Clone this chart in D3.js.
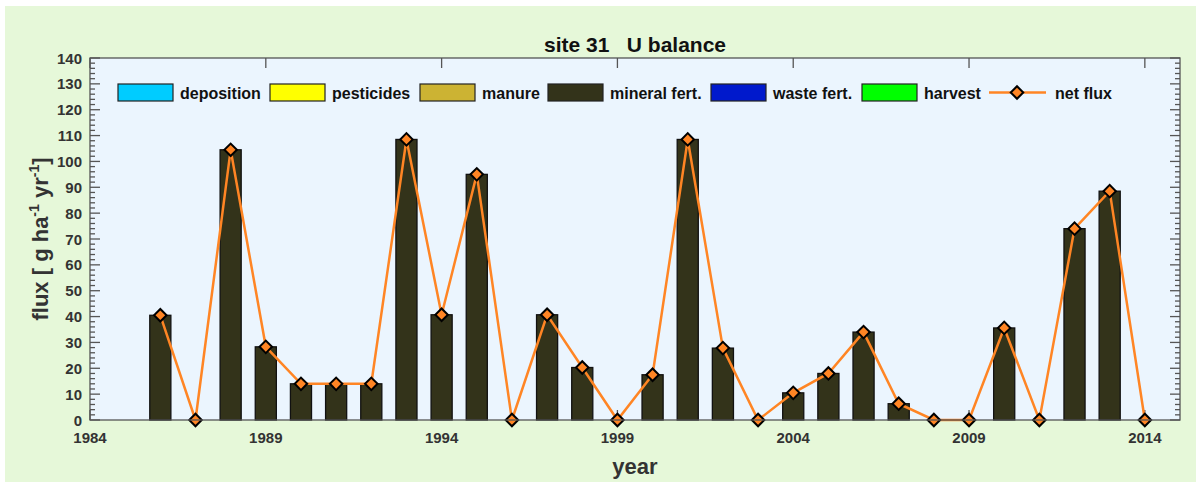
<!DOCTYPE html>
<html>
<head>
<meta charset="utf-8">
<script src="https://cdn.jsdelivr.net/npm/d3@7"></script>
<style>
  body { margin: 0; background: white; }
  text { font-family: "Liberation Sans", Arial, sans-serif; font-weight: bold; fill: #333; }
</style>
</head>
<body>
<div id="container"></div>
<script>
// data
const years = d3.range(1986, 2015)
const deposition = years.map(() => 0)
const pesticides = years.map(() => 0)
const manure = years.map(() => 0)
const mineralFert = [40.5, 0, 104.5, 28.3, 14, 14, 14, 108.5, 40.7, 95, 0, 40.7, 20.3, 0, 17.5,
  108.5, 27.8, 0, 10.5, 18, 34, 6.3, 0, 0, 35.6, 0, 74, 88.5, 0]
const wasteFert = years.map(() => 0)
const harvest = years.map(() => 0)
const netFlux = [40.5, 0, 104.5, 28.3, 14, 14, 14, 108.5, 40.7, 95, 0, 40.7, 20.3, 0, 17.5,
  108.5, 27.8, 0, 10.5, 18, 34, 6.3, 0, 0, 35.6, 0, 74, 88.5, 0]
const xTicks = [1984, 1989, 1994, 1999, 2004, 2009, 2014]
const yTicks = d3.range(0, 141, 10)

const series = [
  { name: 'deposition', values: deposition, color: '#00ccff' },
  { name: 'pesticides', values: pesticides, color: '#ffff00' },
  { name: 'manure', values: manure, color: '#ccb333' },
  { name: 'mineral fert.', values: mineralFert, color: '#33331a' },
  { name: 'waste fert.', values: wasteFert, color: '#0019cc' },
  { name: 'harvest', values: harvest, color: '#00ff00' }
]

const w = 1199
const h = 484
const pLeft = 90, pRight = 1180, pTop = 58, pBottom = 420

const svg = d3.select('#container')
  .append('svg')
    .attr('width', w)
    .attr('height', h)

svg.append('rect')
  .attr('x', 5).attr('y', 6)
  .attr('width', 1191).attr('height', 476)
  .attr('fill', '#e6f8d9')

const scaleX = d3.scaleLinear().domain([1984, 2015]).range([pLeft, pRight])
const scaleY = d3.scaleLinear().domain([0, 140]).range([pBottom, pTop])

svg.append('rect')
  .attr('x', pLeft).attr('y', pTop)
  .attr('width', pRight - pLeft).attr('height', pBottom - pTop)
  .attr('fill', '#ebf5fe')

const axisColor = '#555'

// ticks inside the box
const gTicks = svg.append('g').attr('stroke', axisColor).attr('stroke-width', 1.3)
gTicks.selectAll(null)
  .data(xTicks)
  .enter()
  .append('line')
    .attr('x1', d => scaleX(d)).attr('x2', d => scaleX(d))
    .attr('y1', pTop).attr('y2', pTop + 10)
gTicks.selectAll(null)
  .data(xTicks)
  .enter()
  .append('line')
    .attr('x1', d => scaleX(d)).attr('x2', d => scaleX(d))
    .attr('y1', pBottom).attr('y2', pBottom - 10)

const minor = d3.range(0, 141, 2)
;[pLeft, pRight].forEach((x0, i) => {
  const dir = i === 0 ? 1 : -1
  gTicks.selectAll(null)
    .data(minor)
    .enter()
    .append('line')
      .attr('x1', x0).attr('x2', d => x0 + dir * (d % 10 === 0 ? 10 : 5))
      .attr('y1', d => scaleY(d)).attr('y2', d => scaleY(d))
})

// stacked bars
const stackData = years.map((y, i) => {
  const o = { year: y }
  series.forEach(s => { o[s.name] = s.values[i] })
  return o
})
const stack = d3.stack().keys(series.map(s => s.name)).offset(d3.stackOffsetDiverging)(stackData)
const barW = scaleX(1984.6) - scaleX(1984)

stack.forEach((layer, li) => {
  svg.append('g')
    .selectAll('rect')
    .data(layer.filter(d => d[1] !== d[0]))
    .enter()
    .append('rect')
      .attr('x', d => scaleX(d.data.year) - barW / 2)
      .attr('y', d => scaleY(Math.max(d[0], d[1])))
      .attr('width', barW)
      .attr('height', d => Math.abs(scaleY(d[0]) - scaleY(d[1])))
      .attr('fill', series[li].color)
      .attr('stroke', '#111')
      .attr('stroke-width', 1.3)
})

// net flux line
const line = d3.line().x((d, i) => scaleX(years[i])).y(d => scaleY(d))
svg.append('path')
  .datum(netFlux)
  .attr('d', line)
  .attr('fill', 'none')
  .attr('stroke', '#ff8524')
  .attr('stroke-width', 2.5)

const diamond = d3.symbol().type(d3.symbolSquare).size(78)
svg.selectAll('.diamond')
  .data(netFlux)
  .enter()
  .append('path')
    .attr('d', diamond)
    .attr('transform', (d, i) => `translate(${scaleX(years[i])},${scaleY(d)}) rotate(45)`)
    .attr('fill', '#ff8524')
    .attr('stroke', '#000')
    .attr('stroke-width', 2)

// box
svg.append('rect')
  .attr('x', pLeft).attr('y', pTop)
  .attr('width', pRight - pLeft).attr('height', pBottom - pTop)
  .attr('fill', 'none')
  .attr('stroke', axisColor)
  .attr('stroke-width', 1.3)

// tick labels
svg.selectAll('.ylab')
  .data(yTicks)
  .enter()
  .append('text')
    .attr('x', pLeft - 8)
    .attr('y', d => scaleY(d) + 5.5)
    .attr('text-anchor', 'end')
    .attr('font-size', 15)
    .text(d => d)

svg.selectAll('.xlab')
  .data(xTicks)
  .enter()
  .append('text')
    .attr('x', d => scaleX(d))
    .attr('y', pBottom + 23)
    .attr('text-anchor', 'middle')
    .attr('font-size', 15)
    .text(d => d)

// titles
svg.append('text')
  .attr('x', (pLeft + pRight) / 2)
  .attr('y', 52)
  .attr('text-anchor', 'middle')
  .attr('font-size', 21)
  .style('fill', '#111')
  .style('white-space', 'pre')
  .text('site 31   U balance')

svg.append('text')
  .attr('x', (pLeft + pRight) / 2)
  .attr('y', 474)
  .attr('text-anchor', 'middle')
  .attr('font-size', 22)
  .text('year')

const yl = svg.append('text')
  .attr('transform', `translate(48, ${(pTop + pBottom) / 2}) rotate(-90)`)
  .attr('text-anchor', 'middle')
  .attr('font-size', 22)
yl.append('tspan').text('flux [ g ha')
yl.append('tspan').attr('dy', -9).attr('font-size', 14).text('-1')
yl.append('tspan').attr('dy', 9).text(' yr')
yl.append('tspan').attr('dy', -9).attr('font-size', 14).text('-1')
yl.append('tspan').attr('dy', 9).text(']')

// legend
const legendX = [118, 270, 420, 548, 711, 862]
const lg = svg.append('g')
series.forEach((s, i) => {
  lg.append('rect')
    .attr('x', legendX[i]).attr('y', 84)
    .attr('width', 55).attr('height', 17)
    .attr('fill', s.color)
    .attr('stroke', '#222')
    .attr('stroke-width', 1.2)
  lg.append('text')
    .attr('x', legendX[i] + 62).attr('y', 98.5)
    .attr('font-size', 16)
    .style('fill', '#111')
    .text(s.name)
})
lg.append('line')
  .attr('x1', 989).attr('x2', 1046)
  .attr('y1', 92.5).attr('y2', 92.5)
  .attr('stroke', '#ff8524')
  .attr('stroke-width', 2.5)
lg.append('path')
  .attr('d', diamond)
  .attr('transform', 'translate(1017,92.5) rotate(45)')
  .attr('fill', '#ff8524')
  .attr('stroke', '#000')
  .attr('stroke-width', 2)
lg.append('text')
  .attr('x', 1055).attr('y', 98.5)
  .attr('font-size', 16)
  .style('fill', '#111')
  .text('net flux')
</script>
</body>
</html>
